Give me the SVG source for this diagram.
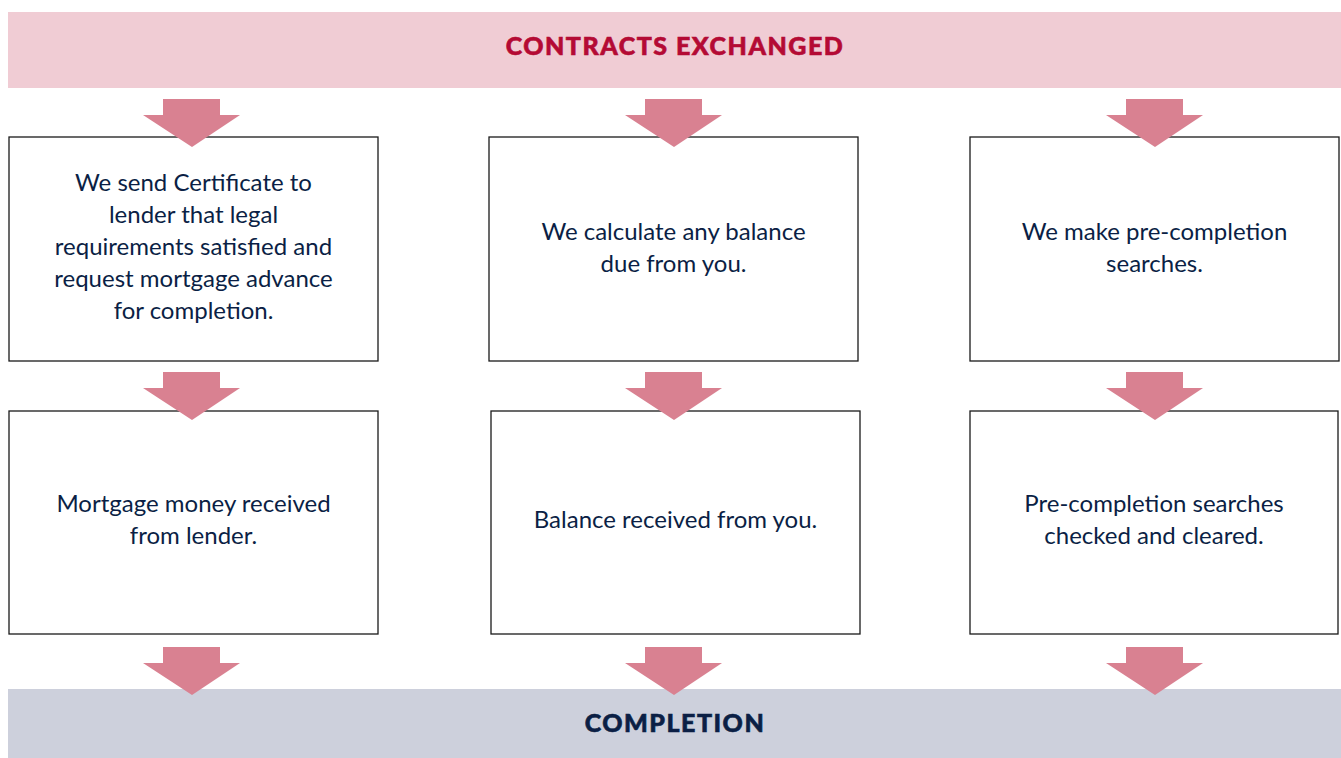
<svg xmlns="http://www.w3.org/2000/svg" width="1341" height="758" viewBox="0 0 1341 758">
<defs>
<style>
.box{fill:#ffffff;stroke:#1a1a1a;stroke-width:1.3}
.arr{fill:#d98191}
.t{font-family:Lato,"Open Sans","Liberation Sans",sans-serif;font-size:24px;fill:#0b1f45;text-anchor:middle}
.h{font-family:Lato,"Open Sans","Liberation Sans",sans-serif;font-size:25px;font-weight:900;letter-spacing:1.5px;stroke-width:0.6px;text-anchor:middle}
</style>
<path id="a" d="M-29,0 H28 V16 H48 L0,48 L-49,16 H-29 Z"/>
</defs>
<rect width="1341" height="758" fill="#ffffff"/>
<g id="contracts-exchanged">
<rect x="8" y="12" width="1333" height="76" fill="#f0ccd4"/>
<text class="h" x="675" y="55" fill="#b40a34" stroke="#b40a34">CONTRACTS EXCHANGED</text>
</g>
<g id="completion">
<rect x="8" y="689" width="1333" height="69" fill="#cdd0dc"/>
<text class="h" x="675" y="732" fill="#0b1f45" stroke="#0b1f45">COMPLETION</text>
</g>
<g id="box-certificate">
<rect class="box" x="9" y="137" width="369" height="224"/>
<text class="t" x="193.5" y="191">We send Certificate to</text>
<text class="t" x="193.5" y="223">lender that legal</text>
<text class="t" x="193.5" y="255">requirements satisfied and</text>
<text class="t" x="193.5" y="287">request mortgage advance</text>
<text class="t" x="193.5" y="319">for completion.</text>
</g>
<g id="box-calculate">
<rect class="box" x="489" y="137" width="369" height="224"/>
<text class="t" x="673.5" y="240">We calculate any balance</text>
<text class="t" x="673.5" y="272">due from you.</text>
</g>
<g id="box-searches">
<rect class="box" x="970" y="137" width="369" height="224"/>
<text class="t" x="1154.5" y="240">We make pre-completion</text>
<text class="t" x="1154.5" y="272">searches.</text>
</g>
<g id="box-mortgage">
<rect class="box" x="9" y="411" width="369" height="223"/>
<text class="t" x="193.5" y="512">Mortgage money received</text>
<text class="t" x="193.5" y="544">from lender.</text>
</g>
<g id="box-balance">
<rect class="box" x="491" y="411" width="369" height="223"/>
<text class="t" x="675.5" y="528">Balance received from you.</text>
</g>
<g id="box-cleared">
<rect class="box" x="970" y="411" width="368" height="223"/>
<text class="t" x="1154" y="512">Pre-completion searches</text>
<text class="t" x="1154" y="544">checked and cleared.</text>
</g>
<g id="connectors">
<use href="#a" class="arr" x="192" y="99"/>
<use href="#a" class="arr" x="674" y="99"/>
<use href="#a" class="arr" x="1155" y="99"/>
<use href="#a" class="arr" x="192" y="372"/>
<use href="#a" class="arr" x="674" y="372"/>
<use href="#a" class="arr" x="1155" y="372"/>
<use href="#a" class="arr" x="192" y="647"/>
<use href="#a" class="arr" x="674" y="647"/>
<use href="#a" class="arr" x="1155" y="647"/>
</g>
</svg>
